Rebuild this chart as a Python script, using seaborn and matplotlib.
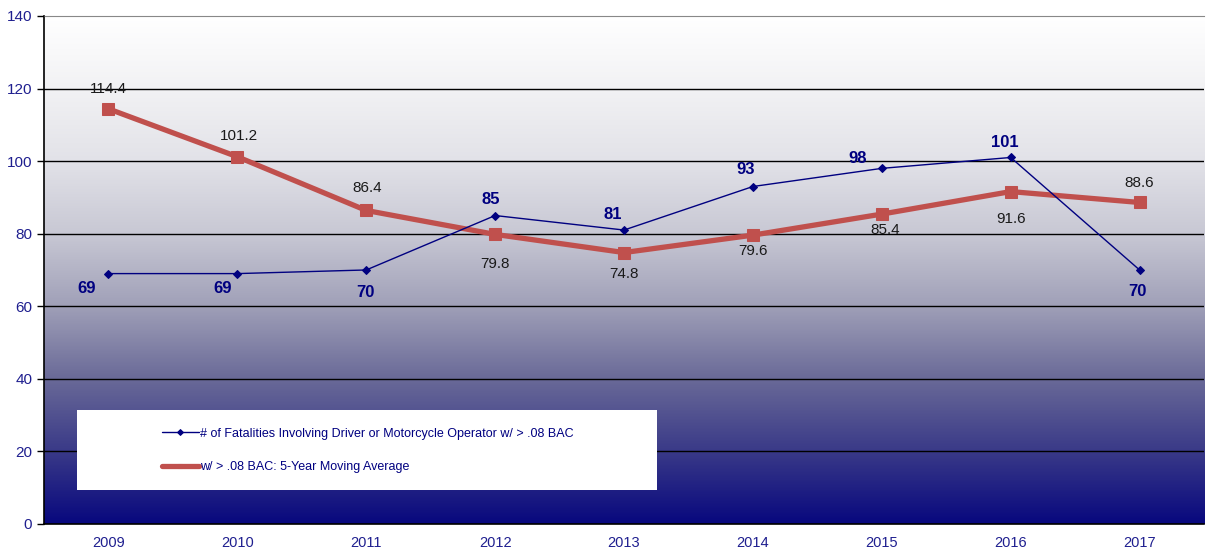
import numpy as np
import pandas as pd
import matplotlib.pyplot as plt
import seaborn as sns
from matplotlib.colors import LinearSegmentedColormap
from matplotlib.patches import Rectangle

# Data
years = ['2009', '2010', '2011', '2012', '2013', '2014', '2015', '2016', '2017']
fatalities = [69, 69, 70, 85, 81, 93, 98, 101, 70]
moving_avg = [114.4, 101.2, 86.4, 79.8, 74.8, 79.6, 85.4, 91.6, 88.6]
fat_label = '# of Fatalities Involving Driver or Motorcycle Operator w/ > .08 BAC'
avg_label = 'w/ > .08 BAC: 5-Year Moving Average'

# label offsets in pixels (x right, y up), like the excel auto-placement
fat_off = [(-22, -15), (-15, -15), (-1, -23), (-4, 16), (-11, 16),
           (-7, 17), (-24, 10), (-6, 15), (-2, -22)]
avg_off = [(0, 20), (2, 21), (1, 22), (0, -30), (0, -21),
           (0, -16), (3, -16), (0, -27), (0, 19)]

df = pd.DataFrame({'year': years, 'fatalities': fatalities, 'avg': moving_avg})

sns.set_style('white')
plt.rcParams['font.family'] = ['Liberation Sans', 'DejaVu Sans']

navy = '#000080'
red = '#c0504d'
tick_col = '#1f1f8f'

fig = plt.figure(figsize=(12.09, 5.5), dpi=100)
ax = fig.add_axes([0.0364, 0.0473, 0.9595, 0.9237])

# gradient background, white at top to navy at bottom
cmap = LinearSegmentedColormap.from_list('bg', [
    (0.0, '#08087e'), (0.143, '#3a3a88'), (0.286, '#6a6a98'),
    (0.429, '#a0a0b8'), (0.571, '#c8c8d4'), (0.714, '#e2e2e8'),
    (0.857, '#f2f2f4'), (1.0, '#ffffff')])
grad = np.linspace(0, 1, 256).reshape(-1, 1)
ax.imshow(grad, cmap=cmap, aspect='auto', origin='lower',
          extent=[0, 1, 0, 1], transform=ax.transAxes, zorder=0)

sns.lineplot(data=df, x='year', y='fatalities', ax=ax, color=navy, lw=1,
             marker='D', markersize=4, markeredgecolor=navy, label=fat_label,
             sort=False, zorder=4)
sns.lineplot(data=df, x='year', y='avg', ax=ax, color=red, lw=3.8,
             marker='s', markersize=9, markeredgecolor=red, label=avg_label,
             sort=False, zorder=3)

ax.set_xlim(-0.5, len(years) - 0.5)
ax.set_ylim(0, 140)
ax.set_yticks(range(0, 141, 20))
ax.yaxis.grid(True, color='black', lw=1)
ax.set_axisbelow(False)
for gl in ax.get_ygridlines():
    gl.set_zorder(1)
ax.get_ygridlines()[-1].set_visible(False)
ax.set_xlabel('')
ax.set_ylabel('')

ax.set_xticks(range(len(years)))
ax.set_xticklabels(years)
ax.set_xticks(np.arange(-0.5, len(years), 1), minor=True)
ax.tick_params(axis='x', which='major', length=0, pad=9, labelsize=10.5, labelcolor=tick_col)
ax.tick_params(axis='x', which='minor', length=5, width=1, color='black', direction='out')
ax.tick_params(axis='y', length=5, width=1, color='black', direction='out',
               labelsize=11, labelcolor=tick_col, left=True)

for s in ['left', 'bottom']:
    ax.spines[s].set_color('black')
    ax.spines[s].set_linewidth(1.2)
ax.spines['top'].set_color('#888888')
ax.spines['right'].set_visible(False)

# data labels
for i, (v, off) in enumerate(zip(fatalities, fat_off)):
    ax.annotate(str(v), (i, v), xytext=off, textcoords='offset pixels',
                ha='center', va='center', fontsize=12, fontweight='bold',
                color=navy, zorder=6)

for i, (v, off) in enumerate(zip(moving_avg, avg_off)):
    ax.annotate(f'{v:.1f}', (i, v), xytext=off, textcoords='offset pixels',
                ha='center', va='center', fontsize=11, color='#1a1a1a', zorder=6)

# legend box
ax.add_patch(Rectangle((0.0284, 0.067), 0.5, 0.157, transform=ax.transAxes,
                       facecolor='white', edgecolor='none', zorder=5))
leg = ax.legend(loc='center left', bbox_to_anchor=(0.097, 0.145), frameon=False,
                fontsize=9, handlelength=3, handletextpad=0.1, labelspacing=1.7,
                borderaxespad=0)
leg.set_zorder(7)
for h in leg.legend_handles:
    h.set_markersize(3)
for t in leg.get_texts():
    t.set_color(navy)

fig.savefig('out.png', dpi=100)
